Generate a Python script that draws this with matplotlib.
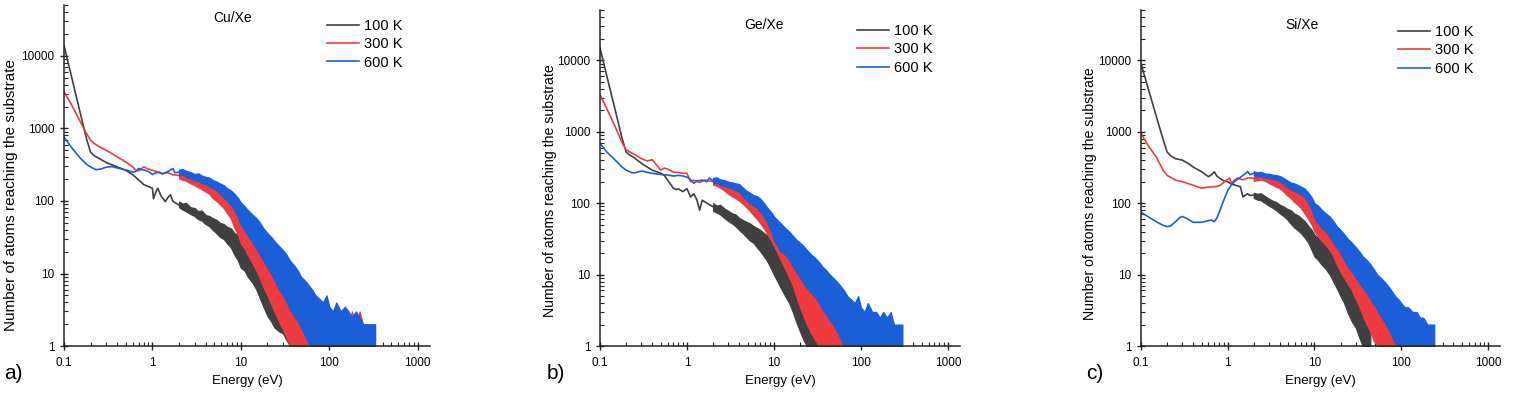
import numpy as np
import matplotlib
matplotlib.use('Agg')
import matplotlib.pyplot as plt
from matplotlib.ticker import FixedLocator, LogLocator, FuncFormatter, NullFormatter

plt.rcParams['font.family'] = ['Liberation Sans', 'DejaVu Sans']

temps = ['100 K', '300 K', '600 K']
colors = ['#404040', '#ef3b3f', '#1b5fd8']
layers = [2.0, 2.2, 2.8]   # black under red, blue over both

# energies (eV) at which the noisy part of the spectra was read (2 eV upwards)
band_e = [2, 2.2, 2.4, 2.7, 3, 3.3, 3.6, 4, 4.4, 4.8,
          5.3, 5.8, 6.4, 7, 7.7, 8.5, 9.3, 10, 11, 12,
          13.5, 15, 16.5, 18, 20, 22, 24, 27, 30, 33,
          36, 40, 44, 48, 53, 58, 64, 70, 77, 85,
          93, 100, 110, 120, 135, 150, 165, 180, 200, 220,
          240, 270, 300, 330]
N_ = None

# ---------------- Cu/Xe ----------------
cu_e_100 = [0.1, 0.12, 0.15, 0.18, 0.2, 0.22, 0.25, 0.3, 0.4, 0.5, 0.6, 0.7, 0.8, 0.9,
            1.0, 1.03, 1.1, 1.15, 1.25, 1.4, 1.5, 1.6, 1.7, 1.8, 2.0]
cu_n_100 = [14000, 5600, 1800, 720, 470, 420, 385, 340, 295, 265, 230, 195, 168, 158,
            150, 108, 135, 150, 118, 98, 112, 122, 100, 95, 88]
cu_hi_100 = [98, 92, 94, 82, 80, 72, 74, 64, 62, 58, 55, 50, 48, 44, 42, 36, 34, 30, 28, 26,
             22, 20, 17, 15, 12, 11, 9, 8, 7, 6, 5, 4.5, 4, 3.5, 3, 2.5, 2] + [N_] * 17
cu_lo_100 = [82, 76, 72, 66, 62, 56, 54, 48, 45, 40, 36, 32, 30, 26, 23, 18, 15, 12, 11, 9,
             7.5, 6, 4.5, 3.5, 2.6, 2.2, 1.8, 1.6, 1.5, 1.2, 1, 1, 1, 1, 1, 1, 1] + [N_] * 17

cu_e_300 = [0.1, 0.12, 0.15, 0.18, 0.2, 0.22, 0.25, 0.3, 0.35, 0.4, 0.5, 0.6, 0.65, 0.7,
            0.75, 0.8, 0.9, 1.0, 1.1, 1.3, 1.5, 1.7, 2.0]
cu_n_300 = [3200, 2200, 1300, 850, 690, 620, 560, 500, 450, 405, 345, 295, 265, 260,
            280, 295, 275, 265, 255, 240, 245, 230, 225]
cu_hi_300 = [250, 240, 245, 225, 215, 205, 200, 185, 175, 160,
             150, 135, 125, 110, 100, 85, 75, 66, 58, 50,
             42, 36, 32, 26, 20, 17, 14, 11, 9, 7,
             6, 5, 4.5, 4, 3.5, 3, 3, 3, 2.5, 3,
             2, 3, 2, 2, 3, 2, 2, 3, 2, 3,
             2, 2, N_, N_]
cu_lo_300 = [205, 195, 190, 175, 165, 155, 145, 135, 125, 110,
             100, 90, 80, 68, 58, 42, 34, 26, 22, 18,
             14, 11, 8.5, 6.5, 5, 3.8, 3, 2.2, 1.7, 1.3] + [1] * 22 + [N_, N_]

cu_e_600 = [0.1, 0.12, 0.15, 0.18, 0.2, 0.23, 0.26, 0.3, 0.35, 0.4, 0.5, 0.6, 0.65, 0.7,
            0.75, 0.8, 0.9, 1.0, 1.1, 1.2, 1.3, 1.5, 1.7, 1.8, 2.0]
cu_n_600 = [760, 560, 400, 320, 295, 270, 275, 292, 298, 285, 268, 250, 255, 282,
            270, 268, 255, 232, 245, 248, 235, 255, 280, 245, 250]
cu_hi_600 = [270, 275, 260, 250, 235, 240, 225, 215, 210, 195,
             185, 175, 165, 150, 140, 125, 110, 95, 85, 75,
             65, 58, 50, 42, 36, 32, 28, 24, 21, 18,
             15, 13, 11, 9, 8, 7, 6, 5, 4.5, 4,
             5, 3.5, 3, 4, 3, 3.5, 3, 2.5, 3, 2.5,
             2, 2, 2, 2]
cu_lo_600 = [225, 230, 215, 205, 190, 190, 175, 170, 160, 150,
             140, 125, 112, 100, 88, 74, 60, 46, 40, 33,
             27, 22, 18, 15, 12, 10, 8, 6, 5, 4,
             3.2, 2.6, 2.2, 1.8, 1.4, 1.1] + [1] * 18

# ---------------- Ge/Xe ----------------
ge_e_100 = [0.1, 0.12, 0.15, 0.18, 0.2, 0.22, 0.25, 0.3, 0.4, 0.5, 0.55, 0.6, 0.7, 0.75,
            0.8, 0.9, 1.0, 1.1, 1.2, 1.3, 1.4, 1.5, 1.7, 2.0]
ge_n_100 = [15000, 6000, 2000, 800, 520, 470, 430, 360, 290, 262, 245, 210, 162, 155,
            158, 145, 160, 122, 135, 112, 80, 110, 100, 89]
ge_hi_100 = [100, 92, 95, 84, 78, 72, 70, 62, 58, 55, 52, 48, 45, 42, 38, 35, 32, 28, 25, 22,
             19, 16, 14, 11, 9, 8, 7, 5, 4.5, 3.5, 3, 3, 2] + [N_] * 21
ge_lo_100 = [78, 74, 70, 62, 56, 52, 48, 42, 38, 34, 30, 28, 24, 21, 18, 15, 12, 10, 8, 6.5,
             5, 4, 3, 2.2, 1.6, 1.2, 1, 1, 1, 1, 1, 1, 1] + [N_] * 21

ge_e_300 = [0.1, 0.12, 0.15, 0.18, 0.2, 0.22, 0.25, 0.3, 0.35, 0.4, 0.45, 0.5, 0.55, 0.6,
            0.7, 0.8, 0.9, 1.0, 1.1, 1.2, 1.4, 1.6, 1.8, 2.0]
ge_n_300 = [3300, 2100, 1170, 700, 560, 520, 480, 420, 390, 405, 340, 290, 310, 300,
            272, 268, 262, 262, 200, 210, 195, 210, 205, 200]
ge_hi_300 = [225, 215, 210, 195, 175, 165, 160, 150, 140, 125,
             115, 105, 98, 88, 78, 68, 60, 55, 46, 40,
             33, 26, 22, 17, 13, 11, 9, 7, 6, 5,
             4.5, 4, 3.5, 3, 3, 2.5, 3, 2, 3, 2,
             3, 2, 3, 2, 3, 2, 2, 3, 2, 2,
             2, N_, N_, N_]
ge_lo_300 = [180, 175, 165, 150, 135, 125, 118, 108, 98, 88,
             78, 68, 60, 52, 44, 36, 30, 25, 20, 16,
             12, 9, 7, 5, 3.5, 2.6, 2, 1.5, 1.2, 1] + [1] * 21 + [N_] * 3

ge_e_600 = [0.1, 0.12, 0.15, 0.18, 0.2, 0.23, 0.25, 0.3, 0.35, 0.4, 0.5, 0.6, 0.7, 0.8,
            0.9, 1.0, 1.1, 1.2, 1.3, 1.5, 1.7, 1.8, 2.0]
ge_n_600 = [690, 520, 400, 320, 290, 268, 265, 282, 270, 262, 252, 248, 240, 245,
            240, 232, 215, 190, 205, 210, 200, 225, 205]
ge_hi_600 = [225, 230, 215, 210, 200, 195, 190, 185, 165, 150,
             140, 130, 125, 115, 100, 85, 75, 65, 58, 52,
             45, 40, 35, 31, 28, 25, 22, 19, 17, 15,
             13, 11.5, 10, 9, 8, 7, 6, 5, 4.5, 4,
             5, 3.5, 3, 4, 3, 3, 2.5, 3, 2.5, 3,
             2, 2, 2, N_]
ge_lo_600 = [190, 195, 180, 175, 165, 160, 150, 145, 125, 110,
             100, 92, 85, 75, 65, 52, 40, 30, 25, 21,
             19, 16, 13, 11, 9, 7.5, 6.5, 5.5, 4.8, 4,
             3.3, 2.7, 2.3, 2, 1.6, 1.3] + [1] * 17 + [N_]

# ---------------- Si/Xe ----------------
si_e_100 = [0.1, 0.12, 0.15, 0.18, 0.2, 0.22, 0.25, 0.3, 0.35, 0.4, 0.5, 0.6, 0.65, 0.7,
            0.75, 0.8, 0.9, 1.0, 1.1, 1.2, 1.3, 1.4, 1.5, 1.6, 1.7, 1.8, 2.0]
si_n_100 = [9000, 4200, 1650, 780, 520, 460, 420, 400, 360, 320, 275, 235, 250, 275,
            240, 225, 205, 200, 185, 180, 175, 170, 122, 130, 135, 128, 130]
si_hi_100 = [140, 135, 138, 125, 115, 108, 104, 95, 90, 84,
             80, 72, 68, 62, 56, 48, 42, 36, 33, 30,
             26, 23, 20, 18, 16, 13, 11, 9, 7.5, 6,
             4.5, 3.5, 2.5] + [N_] * 21
si_lo_100 = [118, 112, 110, 100, 92, 86, 80, 72, 66, 60,
             52, 46, 42, 38, 33, 28, 22, 18, 16, 14,
             12, 10, 8, 6.5, 5, 4, 3, 2.2, 1.8, 1.3,
             1, 1, 1] + [N_] * 21

si_e_300 = [0.1, 0.12, 0.15, 0.18, 0.2, 0.25, 0.3, 0.4, 0.5, 0.6, 0.7, 0.8, 0.9, 1.0,
            1.05, 1.1, 1.2, 1.3, 1.5, 1.7, 2.0]
si_n_300 = [950, 650, 445, 290, 245, 210, 200, 178, 162, 168, 170, 175, 195, 215,
            225, 190, 210, 225, 212, 225, 225]
si_hi_300 = [235, 245, 250, 240, 225, 215, 205, 195, 180, 170,
             160, 150, 140, 130, 115, 100, 85, 72, 63, 55,
             48, 42, 36, 31, 26, 22, 19, 16, 13, 11,
             9.5, 8, 7, 6, 5, 4, 3.5, 3, 3, 2.5,
             3, 2, 2.5, 2, 2, 3, 2, 2, 2] + [N_] * 5
si_lo_300 = [205, 210, 215, 205, 190, 180, 170, 160, 145, 130,
             118, 105, 95, 85, 72, 60, 50, 40, 34, 30,
             26, 22, 18, 14, 11, 9, 7.5, 6, 4.5, 3.5,
             2.7, 2, 1.6, 1.2] + [1] * 15 + [N_] * 5

si_e_600 = [0.1, 0.12, 0.15, 0.18, 0.2, 0.22, 0.25, 0.28, 0.3, 0.33, 0.4, 0.5, 0.6, 0.65,
            0.7, 0.75, 0.8, 0.9, 1.0, 1.1, 1.2, 1.4, 1.5, 1.6, 1.7, 1.8, 2.0]
si_n_600 = [75, 65, 55, 49, 47, 48, 55, 63, 65, 62, 54, 54, 57, 58,
            55, 62, 75, 110, 150, 180, 200, 230, 245, 260, 278, 250, 262]
si_hi_600 = [280, 270, 275, 260, 258, 250, 248, 240, 225, 210,
             195, 190, 180, 170, 160, 140, 120, 100, 92, 82,
             72, 65, 56, 48, 42, 37, 32, 28, 24, 21,
             18, 16, 14, 12, 10, 9, 8, 7, 6, 5,
             4.5, 4, 3.5, 3.5, 3, 3, 2.5, 2.5, 2, 2,
             2, N_, N_, N_]
si_lo_600 = [245, 235, 240, 225, 225, 215, 212, 200, 185, 170,
             155, 150, 140, 130, 120, 100, 80, 62, 52, 46,
             40, 34, 28, 24, 20, 16, 13, 11, 9, 7.5,
             6.5, 5.5, 4.5, 3.8, 3.2, 2.6, 2.2, 1.8, 1.4, 1.1] + [1] * 11 + [N_] * 3

panels = [
    ('Cu/Xe', 'a)', [0.0422, 0.126, 0.2416, 0.861],
     [(cu_e_100, cu_n_100, cu_lo_100, cu_hi_100),
      (cu_e_300, cu_n_300, cu_lo_300, cu_hi_300),
      (cu_e_600, cu_n_600, cu_lo_600, cu_hi_600)],
     (0.462, 0.962), (0.719, 0.96), (-0.145, 0.443), 11),
    ('Ge/Xe', 'b)', [0.3960, 0.126, 0.2376, 0.848],
     [(ge_e_100, ge_n_100, ge_lo_100, ge_hi_100),
      (ge_e_300, ge_n_300, ge_lo_300, ge_hi_300),
      (ge_e_600, ge_n_600, ge_lo_600, ge_hi_600)],
     (0.457, 0.955), (0.714, 0.959), (-0.139, 0.464), 10.2),
    ('Si/Xe', 'c)', [0.7531, 0.126, 0.2370, 0.848],
     [(si_e_100, si_n_100, si_lo_100, si_hi_100),
      (si_e_300, si_n_300, si_lo_300, si_hi_300),
      (si_e_600, si_n_600, si_lo_600, si_hi_600)],
     (0.448, 0.955), (0.716, 0.956), (-0.142, 0.455), 10.2),
]
letter_x = [0.003, 0.361, 0.717]

fig = plt.figure(figsize=(15.15, 3.96), dpi=100)
be = np.array(band_e, dtype=float)

for k, (title, letter, rect, curves, tpos, lpos, ypos, ysize) in enumerate(panels):
    ax = fig.add_axes(rect)
    for (e, n, lo, hi), c, lab, z in zip(curves, colors, temps, layers):
        ax.plot(e, n, color=c, lw=1.2, label=lab, zorder=z)
        lo = np.array(lo, dtype=float)
        hi = np.array(hi, dtype=float)
        ok = ~np.isnan(lo)
        ax.fill_between(be[ok], lo[ok], hi[ok], color=c, lw=0.9, edgecolor=c, zorder=z)
    ax.set_xscale('log')
    ax.set_yscale('log')
    ax.set_xlim(0.1, 1375)
    ax.set_ylim(1, 50000)
    for s in ['top', 'right']:
        ax.spines[s].set_visible(False)
    for s in ['left', 'bottom']:
        ax.spines[s].set_linewidth(1.1)
        ax.spines[s].set_color('#222222')
        ax.spines[s].set_zorder(4)
    ax.xaxis.set_major_locator(FixedLocator([0.1, 1, 10, 100, 1000]))
    ax.xaxis.set_major_formatter(FuncFormatter(lambda v, p: '%g' % v))
    ax.xaxis.set_minor_locator(LogLocator(base=10, subs=np.arange(2, 10)))
    ax.xaxis.set_minor_formatter(NullFormatter())
    ax.yaxis.set_major_locator(FixedLocator([1, 10, 100, 1000, 10000]))
    ax.yaxis.set_major_formatter(FuncFormatter(lambda v, p: '%d' % round(v)))
    ax.yaxis.set_minor_locator(LogLocator(base=10, subs=np.arange(2, 10)))
    ax.yaxis.set_minor_formatter(NullFormatter())
    ax.tick_params(axis='x', which='major', direction='inout', length=6, width=1,
                   labelsize=8.5, pad=5, color='#222222')
    ax.tick_params(axis='x', which='minor', direction='in', length=3, width=0.8, color='#222222')
    ax.tick_params(axis='y', which='major', direction='inout', length=6, width=1,
                   labelsize=8.5, pad=4, color='#222222')
    ax.tick_params(axis='y', which='minor', direction='in', length=3, width=0.8, color='#222222')

    ax.text(tpos[0], tpos[1], title, transform=ax.transAxes, ha='center', va='center',
            fontsize=10)
    ax.legend(loc='upper left', bbox_to_anchor=lpos, frameon=False, fontsize=10.5,
              handlelength=2.2, handletextpad=0.35, labelspacing=0.3,
              borderpad=0, borderaxespad=0)
    ax.set_xlabel('Energy (eV)', fontsize=9.5)
    ax.xaxis.set_label_coords(0.5, -35 / (rect[3] * 396))
    ax.xaxis.label.set_va('center')
    ax.set_ylabel('Number of atoms reaching the substrate', fontsize=ysize)
    ax.yaxis.set_label_coords(ypos[0], ypos[1])
    ax.yaxis.label.set_va('center')
    fig.text(letter_x[k], 0.058, letter, fontsize=15, ha='left', va='center')

fig.savefig('out.png', dpi=100)
